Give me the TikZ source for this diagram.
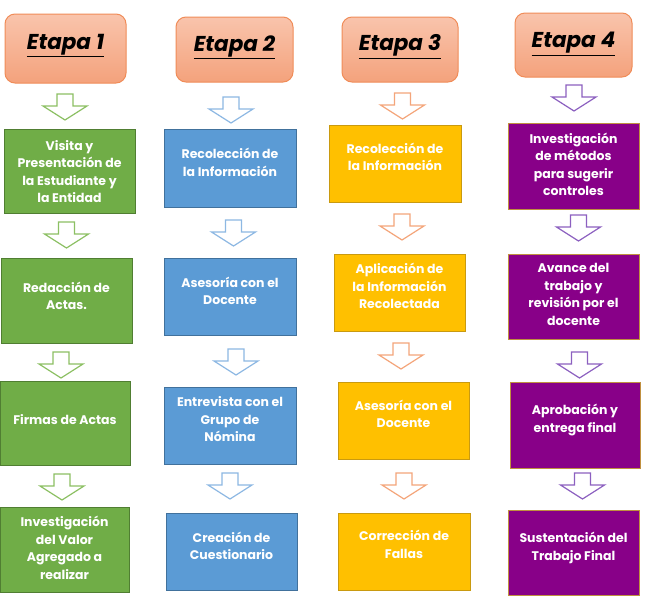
\documentclass[tikz,border=0pt]{standalone}
\usepackage{fontspec}
\setmainfont{Poppins}
\definecolor{gfill}{HTML}{70AD47}
\definecolor{gline}{HTML}{507E32}
\definecolor{bfill}{HTML}{5B9BD5}
\definecolor{bline}{HTML}{41719C}
\definecolor{yfill}{HTML}{FFC000}
\definecolor{yline}{HTML}{C99A10}
\definecolor{pfill}{HTML}{880088}
\definecolor{pline}{HTML}{C09040}
\definecolor{htop}{HTML}{F9C4AC}
\definecolor{hbot}{HTML}{F4A27C}
\definecolor{hline}{HTML}{F08C58}
\definecolor{garr}{HTML}{8CC063}
\definecolor{barr}{HTML}{8DB8E3}
\definecolor{oarr}{HTML}{F4A57A}
\definecolor{parr}{HTML}{8C60C0}
\newcommand\boxfont{\fontsize{12.5}{17.5}\selectfont\bfseries}
\newcommand\headfont{\fontsize{21.5}{24}\selectfont\bfseries\itshape}
\newcommand\mylines[2][0pt]{\raisebox{#1}[\height][\depth]{\begin{tabular}{@{}c@{}}#2\end{tabular}}}
\newcommand\headtxt[2]{\raisebox{#1}[\height][\depth]{\underline{#2}}}
\tikzset{
  box/.style={draw, line width=1pt, text=white, font=\boxfont, inner sep=0pt, minimum width=131pt, minimum height=80pt},
  gbox/.style={box, fill=gfill, draw=gline},
  bbox/.style={box, fill=bfill, draw=bline},
  ybox/.style={box, fill=yfill, draw=yline},
  pbox/.style={box, fill=pfill, draw=pline},
  head/.style={draw=hline, line width=1pt, rounded corners=10pt, top color=htop, bottom color=hbot, font=\headfont, text=black, inner sep=0pt},
  darrow/.pic={\draw[pic actions, line width=1.2pt, fill=white, line join=miter] (-8,0) -- (8,0) -- (8,12) -- (22,12) -- (0,26) -- (-22,12) -- (-8,12) -- cycle;}
}
\begin{document}
\begin{tikzpicture}[x=1pt, y=-1pt]
\useasboundingbox[fill=white] (0,0) rectangle (645,606);
% headers
\node[head, minimum width=121pt, minimum height=69pt] (h1) at (65.5,48.5) {\headtxt{3pt}{Etapa 1}};
\node[head, minimum width=117pt, minimum height=65pt] (h2) at (234.5,49.5) {\headtxt{2pt}{Etapa 2}};
\node[head, minimum width=116pt, minimum height=65pt] (h3) at (400,49.5) {\headtxt{3pt}{Etapa 3}};
\node[head, minimum width=117pt, minimum height=64pt] (h4) at (573.5,45) {\headtxt{1pt}{Etapa 4}};
% column 1
\node[gbox, minimum height=84pt] (g1) at (69.5,171) {\mylines[-2pt]{Visita y\\Presentación de\\la Estudiante y\\la Entidad}};
\node[gbox, minimum height=85pt] (g2) at (66.5,300.5) {\mylines[3pt]{Redacción de\\Actas.}};
\node[gbox, minimum width=130pt, minimum height=84pt] (g3) at (65,423) {\mylines[2pt]{Firmas de Actas}};
\node[gbox, minimum width=129pt, minimum height=85pt] (g4) at (64.5,549.5) {\mylines[0pt]{Investigación\\del Valor\\Agregado a\\realizar}};
% column 2
\node[bbox, minimum width=132pt, minimum height=78pt] (b1) at (230,168) {\mylines[4pt]{Recolección de\\la Información}};
\node[bbox, minimum width=132pt, minimum height=77pt] (b2) at (230,296.5) {\mylines[4pt]{Asesoría con el\\Docente}};
\node[bbox, minimum width=132pt, minimum height=77pt] (b3) at (230,425.5) {\mylines[5pt]{Entrevista con el\\Grupo de\\Nómina}};
\node[bbox, minimum width=131pt, minimum height=77pt] (b4) at (231.5,551.5) {\mylines[4pt]{Creación de\\Cuestionario}};
% column 3
\node[ybox, minimum width=132pt, minimum height=77pt] (y1) at (395,163.5) {\mylines[5pt]{Recolección de\\la Información}};
\node[ybox, minimum width=131pt, minimum height=77pt] (y2) at (399.5,292.5) {\mylines[5pt]{Aplicación de\\la Información\\Recolectada}};
\node[ybox, minimum width=131pt, minimum height=77pt] (y3) at (403.5,420.5) {\mylines[5pt]{Asesoría con el\\Docente}};
\node[ybox, minimum width=132pt, minimum height=77pt] (y4) at (404,551.5) {\mylines[5.5pt]{Corrección de\\Fallas}};
% column 4
\node[pbox, minimum height=86pt] (p1) at (573.5,166) {\mylines[0pt]{Investigación\\de métodos\\para sugerir\\controles}};
\node[pbox, minimum height=85pt] (p2) at (573.5,296.5) {\mylines[1pt]{Avance del\\trabajo y\\revisión por el\\docente}};
\node[pbox, minimum width=130pt, minimum height=86pt] (p3) at (575,425) {\mylines[5pt]{Aprobación y\\entrega final}};
\node[pbox, minimum height=85pt] (p4) at (573.5,552.5) {\mylines[4.5pt]{Sustentación del\\Trabajo Final}};
% arrows
\pic[draw=garr] at (65,94) {darrow};
\pic[draw=garr] at (66.5,222) {darrow};
\pic[draw=garr] at (61,352) {darrow};
\pic[draw=garr] at (62,474) {darrow};
\pic[draw=barr] at (231,97) {darrow};
\pic[draw=barr] at (233.5,220) {darrow};
\pic[draw=barr] at (236,349) {darrow};
\pic[draw=barr] at (230,473) {darrow};
\pic[draw=oarr] at (402.5,93) {darrow};
\pic[draw=oarr] at (402,214) {darrow};
\pic[draw=oarr] at (401,343) {darrow};
\pic[draw=oarr] at (404,473) {darrow};
\pic[draw=parr] at (574,85) {darrow};
\pic[draw=parr] at (578.5,215) {darrow};
\pic[draw=parr] at (579.5,352) {darrow};
\pic[draw=parr] at (582.5,473) {darrow};
\end{tikzpicture}
\end{document}
